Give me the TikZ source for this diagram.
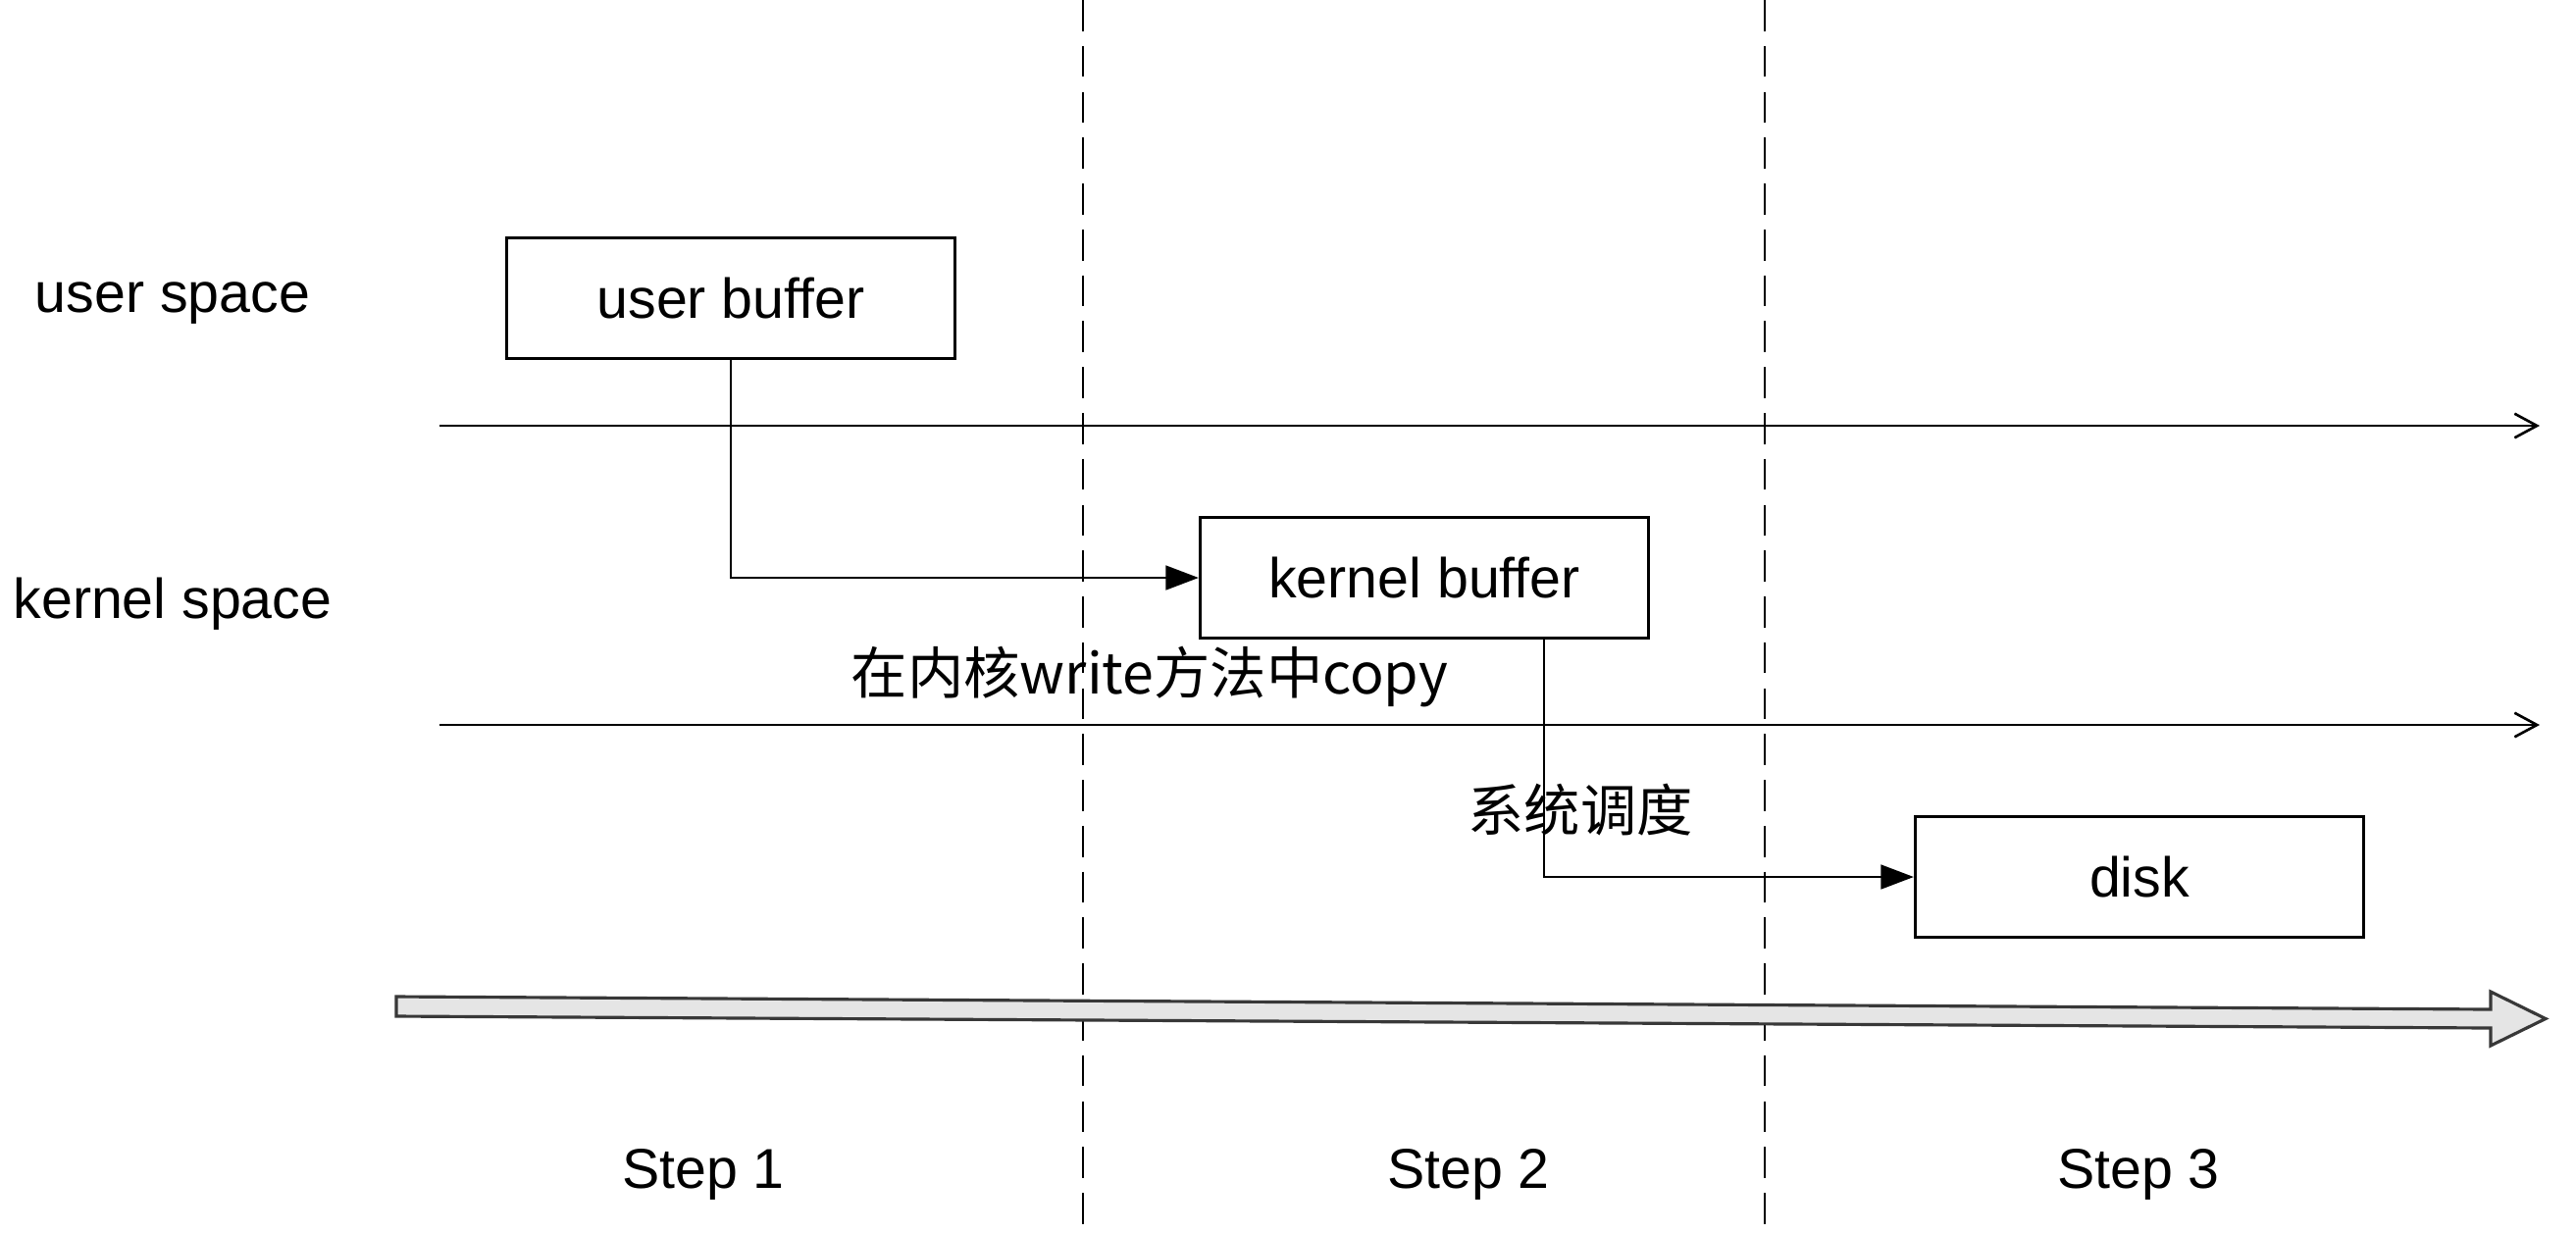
\documentclass[tikz,border=0pt]{standalone}
\usepackage{fontspec}
\setmainfont{Liberation Sans}
\newfontfamily\cjk{Noto Sans CJK SC}
\usetikzlibrary{arrows.meta}
\begin{document}
\begin{tikzpicture}[x=0.01cm,y=-0.01cm,
  txt/.style={inner sep=0pt,font=\fontsize{16.3}{19}\selectfont},
  box/.style={draw,line width=0.85pt,minimum width=4.57cm,minimum height=1.22cm,inner sep=0pt,font=\fontsize{16.3}{19}\selectfont},
  axis/.style={line width=0.75pt,-{Straight Barb[length=6.5pt,width=7pt]}},
  conn/.style={line width=0.75pt,-{Triangle[length=9.5pt,width=7pt]}},
  divider/.style={line width=0.8pt,dash pattern=on 9pt off 4.3pt},
  fat/.style={draw=black!78,fill=black!10,line width=0.9pt,line join=miter}
]
\useasboundingbox (0,0) rectangle (2626,1256);
% dividers
\coordinate (d1t) at (1104,0);
\coordinate (d1b) at (1104,1256);
\coordinate (d2t) at (1799,0);
\coordinate (d2b) at (1799,1256);
\draw[divider] (d1t) -- (d1b);
\draw[divider] (d2t) -- (d2b);
% axes
\coordinate (a1s) at (448,434);
\coordinate (a1e) at (2589,434);
\coordinate (a2s) at (448,739);
\coordinate (a2e) at (2589,739);
\draw[axis] (a1s) -- (a1e);
\draw[axis] (a2s) -- (a2e);
% labels
\node[txt,anchor=base] (us) at (176,318) {user space};
\node[txt,anchor=base] (ks) at (176,630) {kernel space};
% boxes
\node[box] (ub) at (745,304) {user buffer};
\node[box] (kb) at (1452,589) {kernel buffer};
\node[box] (disk) at (2181,894) {disk};
% connectors
\draw[conn] (ub.south) |- (kb.west);
\draw[conn] ([xshift=1.22cm]kb.south) |- (disk.west);
\node[txt,font=\cjk\fontsize{16.3}{19}\selectfont] (copy) at (1172,690) {在内核write方法中copy};
\node[txt,font=\cjk\fontsize{16.3}{19}\selectfont] (sched) at (1611,826) {系统调度};
% time arrow
\draw[fat] (404,1016) -- (2539,1029) -- (2539,1011) -- (2595,1038.5) -- (2539,1066) -- (2539,1048) -- (404,1036) -- cycle;
% steps
\node[txt,anchor=base] (s1) at (717,1211) {Step 1};
\node[txt,anchor=base] (s2) at (1497,1211) {Step 2};
\node[txt,anchor=base] (s3) at (2180,1211) {Step 3};
\end{tikzpicture}
\end{document}
